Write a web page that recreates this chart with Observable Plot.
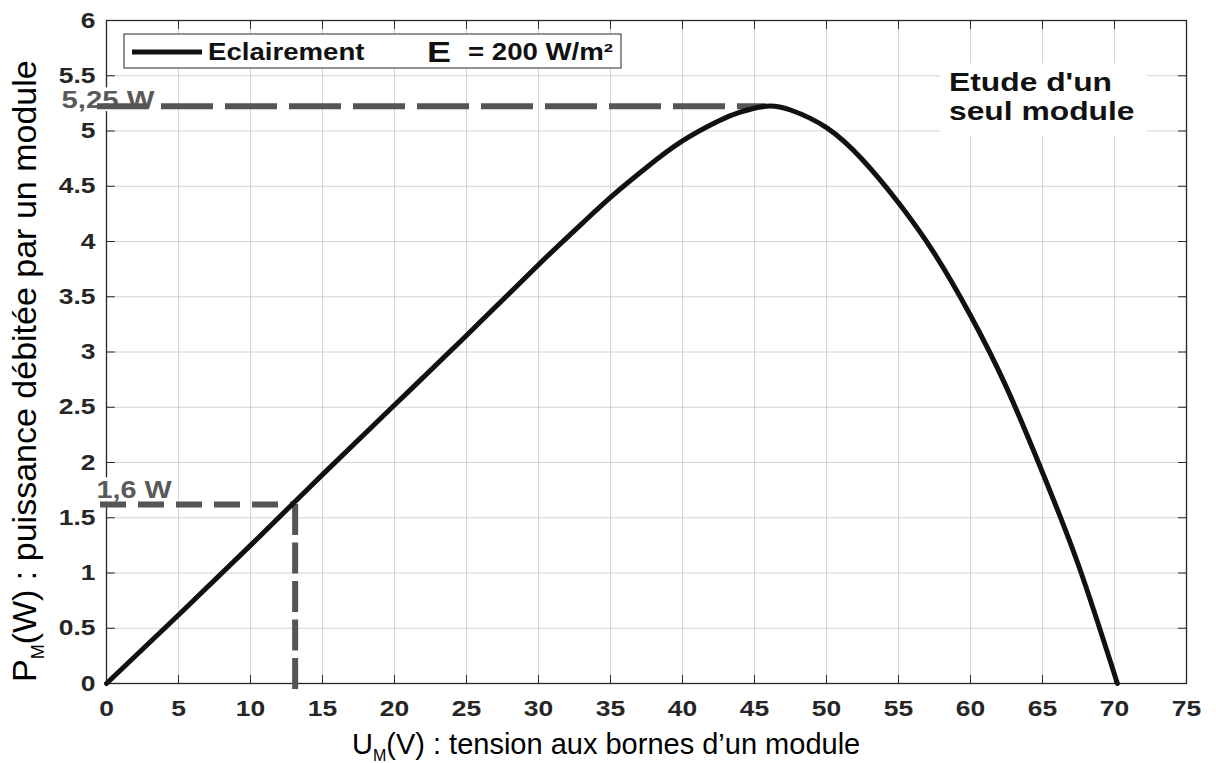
<!DOCTYPE html>
<html>
<head>
<meta charset="utf-8">
<script src="https://cdn.jsdelivr.net/npm/d3@7"></script>
<script src="https://cdn.jsdelivr.net/npm/@observablehq/plot@0.6"></script>
<style>
  html, body { margin: 0; padding: 0; background: #fff; }
  #chart { width: 1216px; height: 763px; }
</style>
</head>
<body>
<div id="chart"></div>
<script>
// ---- data ----
const voltage = [0, 5, 10, 15, 20, 25, 30, 33, 35, 37.5, 40, 42.5, 44, 45.8, 47.5, 50, 52.5, 55, 57.5, 60, 62.5, 65, 67.5, 70.2];
const power   = [0, 0.62, 1.25, 1.89, 2.52, 3.15, 3.79, 4.16, 4.40, 4.67, 4.91, 5.09, 5.17, 5.225, 5.19, 5.03, 4.74, 4.35, 3.89, 3.33, 2.68, 1.91, 1.07, 0];

const xTicks = [0, 5, 10, 15, 20, 25, 30, 35, 40, 45, 50, 55, 60, 65, 70, 75];
const yTicks = [0, 0.5, 1, 1.5, 2, 2.5, 3, 3.5, 4, 4.5, 5, 5.5, 6];

const peakPoint  = [{u: 45.8, p: 5.225, label: "5,25 W"}];
const lowPoint   = [{u: 13.1, p: 1.62, label: "1,6 W"}];

const legendName  = "Eclairement";
const legendE     = "E";
const legendValue = "= 200 W/m²";
const noteLines   = ["Etude d'un", "seul module"];
const xLabelParts = ["U", "M", "(V) : tension aux bornes d\u2019un module"];
const yLabelParts = ["P", "M", "(W) : puissance débitée par un module"];

// ---- chart ----
const curveData = voltage.map((u, i) => ({u, p: power[i]}));
const dark = "#262626";
const gridColor = "#d4d4d4";
const dashColor = "#555555";
const tickShape = {draw(ctx, l) { ctx.moveTo(0, 0); ctx.lineTo(0, -l); }};
const tickOpts = {length: 8, anchor: "start", shape: tickShape, stroke: dark, strokeWidth: 1};

const plot = Plot.plot({
  width: 1216,
  height: 763,
  marginLeft: 106,
  marginRight: 30,
  marginTop: 20,
  marginBottom: 80,
  style: {fontFamily: "'Liberation Sans', Arial, sans-serif", fontSize: "22px", fontWeight: "bold", color: dark, background: "white"},
  x: {domain: [0, 75]},
  y: {domain: [0, 6]},
  marks: [
    Plot.gridX(xTicks, {stroke: gridColor, strokeOpacity: 1}),
    Plot.gridY(yTicks, {stroke: gridColor, strokeOpacity: 1}),
    Plot.vector(xTicks, {x: d => d, frameAnchor: "bottom", rotate: 0, ...tickOpts}),
    Plot.vector(xTicks, {x: d => d, frameAnchor: "top", rotate: 180, ...tickOpts}),
    Plot.vector(yTicks, {y: d => d, frameAnchor: "left", rotate: 90, ...tickOpts}),
    Plot.vector(yTicks, {y: d => d, frameAnchor: "right", rotate: -90, ...tickOpts}),
    Plot.frame({stroke: dark, strokeWidth: 1.3}),
    Plot.axisX(xTicks, {tickSize: 0, tickPadding: 17, label: null, fill: dark}),
    Plot.axisY(yTicks, {tickSize: 0, tickPadding: 11, label: null, fill: dark, tickFormat: d => String(d)}),
    // value labels with white halo
    Plot.text(peakPoint, {x: 0, y: "p", text: "label", textAnchor: "start", lineAnchor: "bottom", dx: -45, dy: 2,
      fill: "#5a5a5a", stroke: "white", strokeWidth: 7, fontSize: 24.5, fontWeight: "bold", className: "stretch"}),
    Plot.text(lowPoint, {x: 0, y: "p", text: "label", textAnchor: "start", lineAnchor: "bottom", dx: -10, dy: -6,
      fill: "#5a5a5a", stroke: "white", strokeWidth: 7, fontSize: 24, fontWeight: "bold", className: "stretch"}),
    // dashed guide lines
    Plot.ruleY(peakPoint, {y: "p", x1: 0, x2: "u", insetLeft: -9, stroke: dashColor, strokeWidth: 6, strokeDasharray: "52,12"}),
    Plot.ruleY(lowPoint, {y: "p", x1: 0, x2: "u", insetLeft: -6, stroke: dashColor, strokeWidth: 6, strokeDasharray: "26,12"}),
    Plot.ruleX(lowPoint, {x: "u", y1: "p", y2: 0, insetBottom: -8, stroke: dashColor, strokeWidth: 6, strokeDasharray: "31,7.5"}),
    // P-U curve
    Plot.line(curveData, {x: "u", y: "p", stroke: "#111", strokeWidth: 5, curve: "natural"})
  ]
});

document.getElementById("chart").appendChild(plot);
const svg = d3.select(plot);
const font = "'Liberation Sans', Arial, sans-serif";

// legend box
const legend = svg.append("g").attr("class", "legend").attr("text-anchor", "start").attr("font-family", font);
legend.append("rect").attr("x", 124).attr("y", 34).attr("width", 497).attr("height", 34)
  .attr("fill", "white").attr("stroke", dark).attr("stroke-width", 1);
legend.append("line").attr("x1", 132).attr("x2", 202).attr("y1", 52).attr("y2", 52)
  .attr("stroke", "#111").attr("stroke-width", 5);
legend.append("text").attr("class", "stretch").attr("x", 208).attr("y", 60)
  .attr("font-size", 23).attr("font-weight", "bold").attr("fill", "#111").text(legendName);
legend.append("text").attr("class", "stretch").attr("x", 427).attr("y", 62)
  .attr("font-size", 30).attr("font-weight", "bold").attr("fill", "#111").text(legendE);
legend.append("text").attr("class", "stretch").attr("x", 468).attr("y", 60)
  .attr("font-size", 23).attr("font-weight", "bold").attr("fill", "#111").text(legendValue);

// note box
const note = svg.append("g").attr("class", "note").attr("text-anchor", "start").attr("font-family", font);
note.append("rect").attr("x", 940).attr("y", 63).attr("width", 207).attr("height", 73).attr("fill", "white");
noteLines.forEach((t, i) => {
  note.append("text").attr("class", "stretch").attr("x", 949).attr("y", 91 + i * 29)
    .attr("font-size", 26.5).attr("font-weight", "bold").attr("fill", "#111").text(t);
});

// axis labels with subscripts
const xl = svg.append("text").attr("x", 352).attr("y", 754).attr("text-anchor", "start")
  .attr("font-family", font).attr("font-size", 29).attr("font-weight", "normal").attr("fill", "#000");
xl.append("tspan").text(xLabelParts[0]);
xl.append("tspan").attr("font-size", 16).attr("dy", 7).text(xLabelParts[1]);
xl.append("tspan").attr("dy", -7).text(xLabelParts[2]);

const yl = svg.append("text").attr("transform", "translate(36,682) rotate(-90)").attr("text-anchor", "start")
  .attr("font-family", font).attr("font-size", 34).attr("font-weight", "normal").attr("fill", "#000");
yl.append("tspan").text(yLabelParts[0]);
yl.append("tspan").attr("font-size", 18).attr("dy", 8).text(yLabelParts[1]);
yl.append("tspan").attr("dy", -8).text(yLabelParts[2]);

// horizontal stretch of the bold texts (the reference renders them wide)
const toStretch = plot.querySelectorAll(
  'g[aria-label="x-axis tick label"] text, g[aria-label="y-axis tick label"] text, .stretch text, text.stretch');
toStretch.forEach(el => {
  const w = el.getComputedTextLength();
  if (w > 0) {
    el.setAttribute("textLength", (w * 1.2).toFixed(1));
    el.setAttribute("lengthAdjust", "spacingAndGlyphs");
  }
});
</script>
</body>
</html>
